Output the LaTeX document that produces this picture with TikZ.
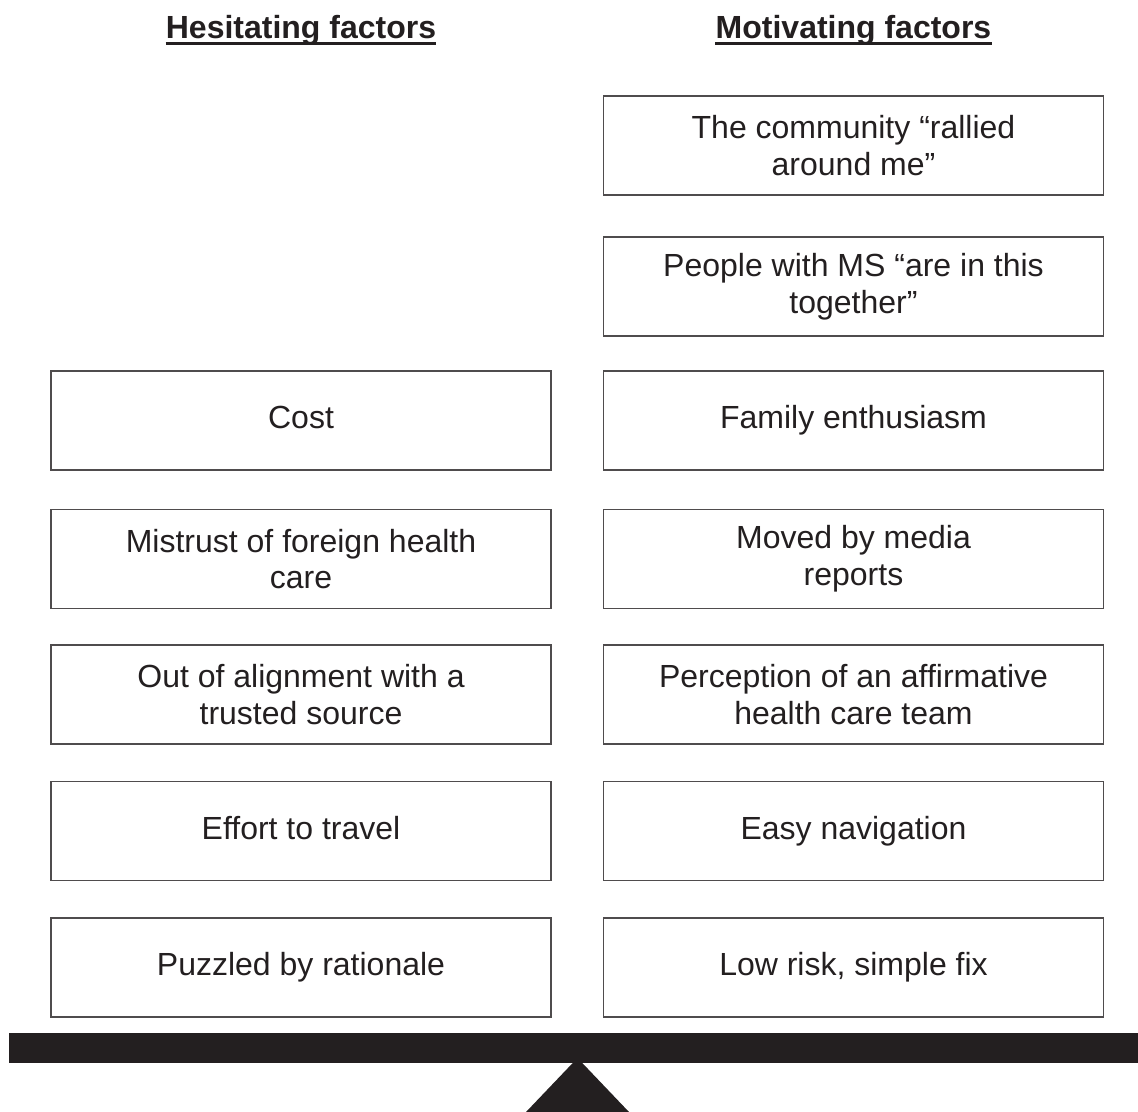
\documentclass[tikz,border=0pt]{standalone}
\usepackage{fontspec}
\setmainfont{Liberation Sans}
\definecolor{ink}{HTML}{231F20}
\begin{document}
\begin{tikzpicture}[x=0.75pt,y=-0.75pt,
  factor/.style={draw=ink!80, line width=0.9pt, minimum width=375pt, minimum height=74.25pt,
    inner sep=0pt, align=center, text=ink, font=\fontsize{24}{27.5}\selectfont},
  oneline/.style={factor, text height=17.2pt, text depth=5pt},
  header/.style={inner sep=0pt, text=ink, font=\bfseries\fontsize{24}{27.5}\selectfont},
  uline/.style={draw=ink, line width=1.9pt}]
\useasboundingbox (0,0) rectangle (1138,1112);
% headers
\node[header, anchor=base] (hh) at (301,38.5) {Hesitating factors};
\node[header, anchor=base] (mh) at (853.5,38.5) {Motivating factors};
\draw[uline] ([yshift=-3.6pt]hh.base west) -- ([yshift=-3.6pt]hh.base east);
\draw[uline] ([yshift=-3.6pt]mh.base west) -- ([yshift=-3.6pt]mh.base east);
% motivating factors
\node[factor] (m1) at (853.5,145.5) {The community \char"201C rallied\\around me\char"201D};
\node[factor] (m2) at (853.5,286.5) {People with MS \char"201C are in this\\together\char"201D};
\node[oneline] (m3) at (853.5,420.5) {Family enthusiasm};
\node[factor] (m4) at (853.5,559) {Moved by media\\reports};
\node[factor] (m5) at (853.5,694.5) {Perception of an affirmative\\health care team};
\node[oneline] (m6) at (853.5,831) {Easy navigation};
\node[oneline] (m7) at (853.5,967.5) {Low risk, simple fix};
% hesitating factors
\node[oneline] (h3) at (301,420.5) {Cost};
\node[factor] (h4) at (301,559) {Mistrust of foreign health\\care};
\node[factor] (h5) at (301,694.5) {Out of alignment with a\\trusted source};
\node[oneline] (h6) at (301,831) {Effort to travel};
\node[oneline] (h7) at (301,967.5) {Puzzled by rationale};
% balance
\fill[ink] (9,1033) rectangle (1138,1063);
\fill[ink] (577.5,1058) -- (629,1112) -- (526,1112) -- cycle;
\end{tikzpicture}
\end{document}
